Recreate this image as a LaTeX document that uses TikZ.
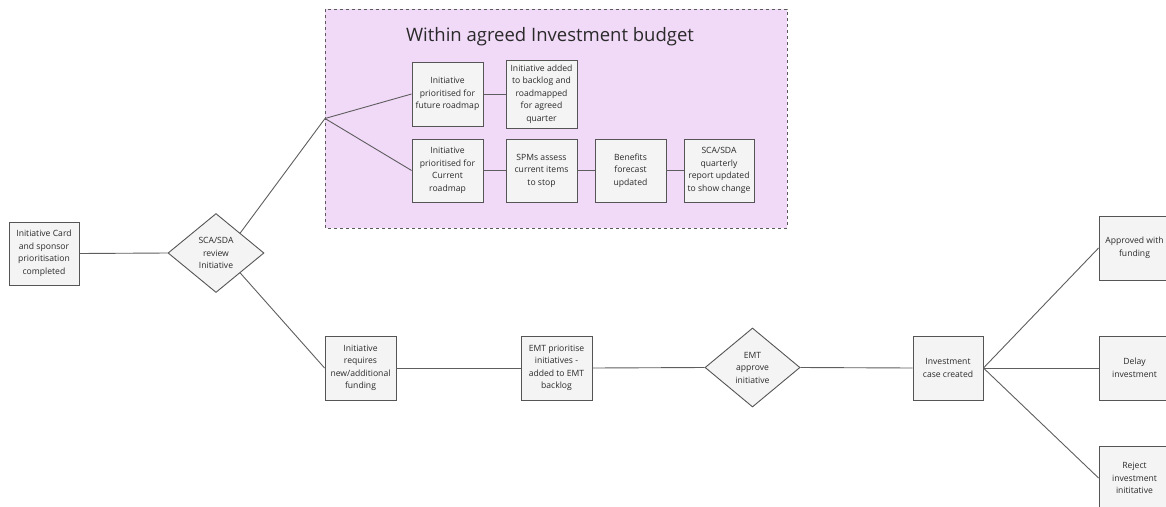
\documentclass[tikz,border=0pt]{standalone}
\usepackage{fontspec}
\setmainfont{Open Sans}
\usetikzlibrary{shapes.geometric}
\definecolor{boxfill}{HTML}{F3F4F3}
\definecolor{boxline}{HTML}{555555}
\definecolor{wire}{HTML}{5E5E5E}
\definecolor{zonefill}{HTML}{F1D9F8}
\definecolor{zoneline}{HTML}{5A5A5A}
\definecolor{ink}{HTML}{2A2A2A}
\tikzset{
  stepbox/.style={draw=boxline, fill=boxfill, line width=0.9pt, rectangle,
    minimum width=71pt, minimum height=64pt, inner sep=0pt, align=center,
    text=ink, font=\fontsize{8.6}{12.5}\selectfont},
  decision/.style={draw=boxline, fill=boxfill, line width=0.9pt, diamond,
    minimum width=96pt, minimum height=79pt, inner sep=0pt, align=center,
    text=ink, font=\fontsize{8.6}{12.5}\selectfont},
  wireline/.style={draw=wire, line width=0.9pt},
}
\begin{document}
\begin{tikzpicture}[x=1pt, y=-1pt]
  \useasboundingbox (0,0) rectangle (1166,506);
  \clip (0,0) rectangle (1166,506);

  % budget zone
  \draw[fill=zonefill, draw=zoneline, dashed, line width=0.8pt] (325,9) rectangle (787,228);
  \node[text=ink, font=\fontsize{18.5}{22}\selectfont] (zonetitle) at (550,37) {Within agreed Investment budget};

  % nodes
  \node[stepbox, minimum width=70pt, minimum height=63pt] (card) at (44,253.5) {Initiative Card\\and sponsor\\prioritisation\\completed};
  \node[decision] (review) at (216,253) {SCA/SDA\\review\\Initiative};

  \node[stepbox] (future) at (447.5,94) {Initiative\\prioritised for\\future roadmap};
  \node[stepbox, minimum height=68pt] (added) at (541.5,94) {Initiative added\\to backlog and\\roadmapped\\for agreed\\quarter};
  \node[stepbox, minimum height=63pt] (current) at (447.5,170.5) {Initiative\\prioritised for\\Current\\roadmap};
  \node[stepbox, minimum height=63pt] (spms) at (541.5,170.5) {SPMs assess\\current items\\to stop};
  \node[stepbox, minimum height=63pt] (benefits) at (630.5,170.5) {Benefits\\forecast\\updated};
  \node[stepbox, minimum width=70pt, minimum height=63pt] (report) at (719,170.5) {SCA/SDA\\quarterly\\report updated\\to show change};

  \node[stepbox] (funding) at (360.5,368) {Initiative\\requires\\new/additional\\funding};
  \node[stepbox] (emtprio) at (556.5,368) {EMT prioritise\\initiatives -\\added to EMT\\backlog};
  \node[decision, minimum width=95pt] (emtok) at (752.5,367.5) {EMT\\approve\\initiative};
  \node[stepbox, minimum width=70pt] (invcase) at (948,368) {Investment\\case created};

  \node[stepbox] (approved) at (1134.5,248) {Approved with\\funding};
  \node[stepbox] (delay) at (1134.5,368) {Delay\\investment};
  \node[stepbox] (reject) at (1134.5,478) {Reject\\investment\\inititative};

  \coordinate (split) at (325,118.5);

  % connectors
  \draw[wireline] (card.east) -- (review.west);
  \draw[wireline] (review.north east) -- (split);
  \draw[wireline] (split) -- (future.west);
  \draw[wireline] (split) -- (current.west);
  \draw[wireline] (future.east) -- (added.west);
  \draw[wireline] (current.east) -- (spms.west);
  \draw[wireline] (spms.east) -- (benefits.west);
  \draw[wireline] (benefits.east) -- (report.west);
  \draw[wireline] (review.south east) -- (funding.west);
  \draw[wireline] (funding.east) -- (emtprio.west);
  \draw[wireline] (emtprio.east) -- (emtok.west);
  \draw[wireline] (emtok.east) -- (invcase.west);
  \draw[wireline] (invcase.east) -- (approved.west);
  \draw[wireline] (invcase.east) -- (delay.west);
  \draw[wireline] (invcase.east) -- (reject.west);
\end{tikzpicture}
\end{document}
